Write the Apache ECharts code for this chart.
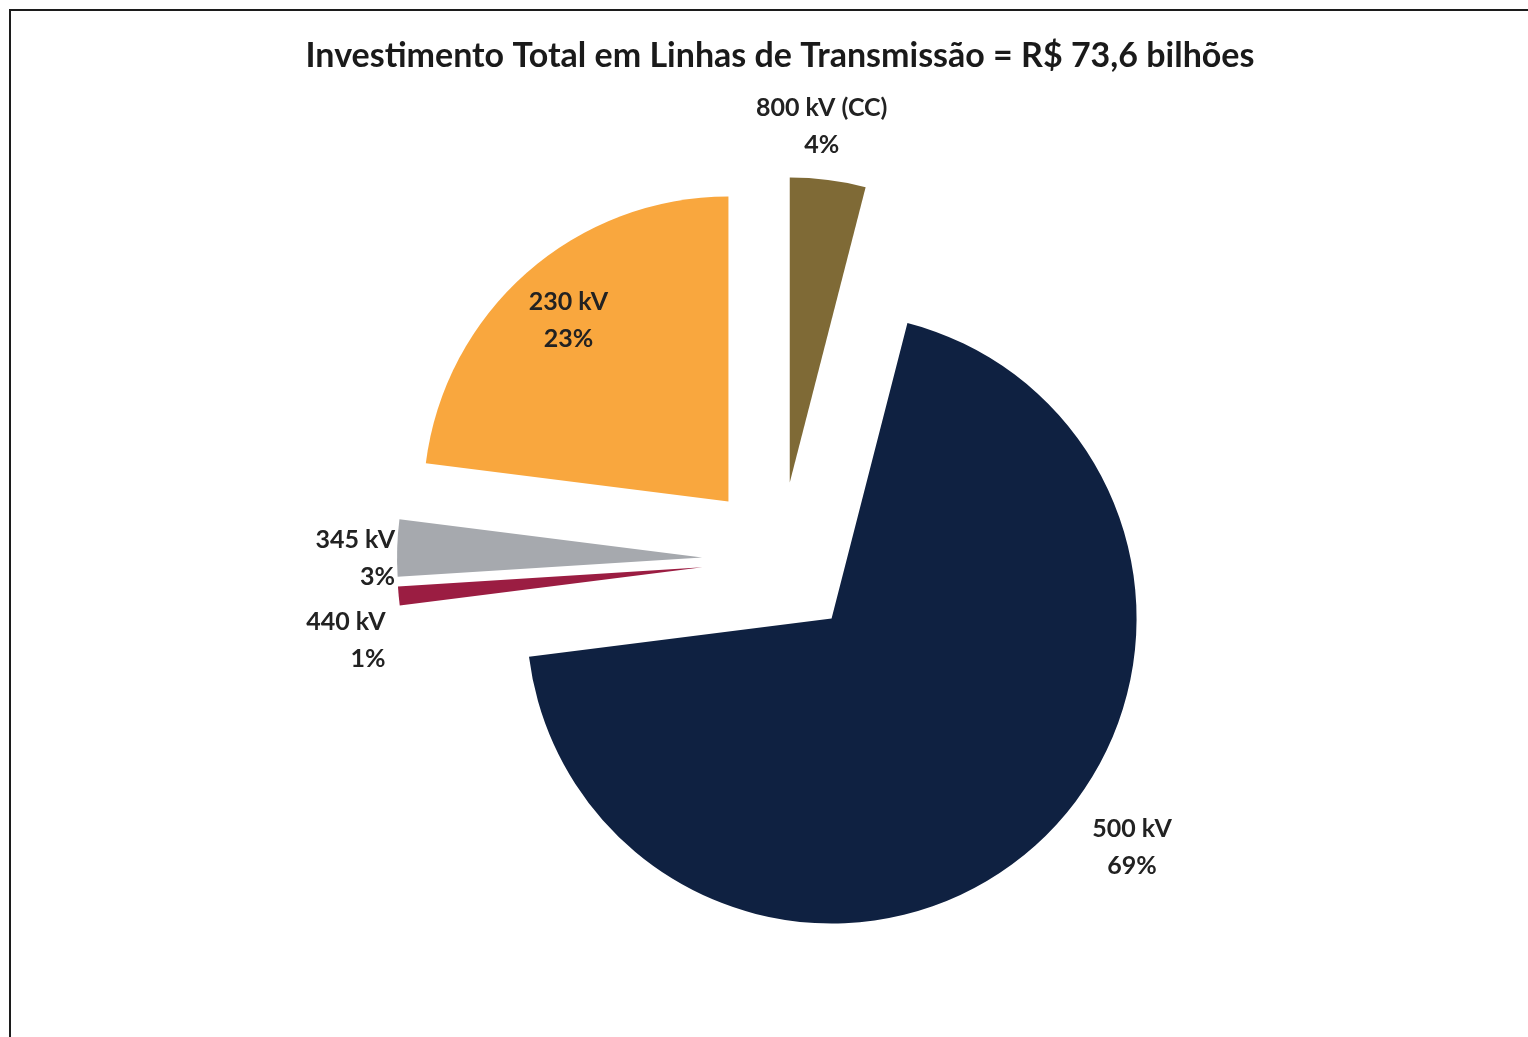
<!DOCTYPE html>
<html><head><meta charset="utf-8">
<script src="https://cdn.jsdelivr.net/npm/echarts@6/dist/echarts.min.js"></script>
<style>
html,body{margin:0;padding:0;background:#fff;overflow:hidden;width:1528px;height:1037px;}
#frame{position:absolute;left:9px;top:9px;width:1519px;height:1028px;border-left:2px solid #1c1c1c;border-top:2px solid #1c1c1c;box-sizing:border-box;}
#chart{position:absolute;left:0;top:0;width:1560px;height:1037px;}
</style></head><body>
<div id="frame"></div>
<div id="chart"></div>
<script>
// ---- data ----
const categories = ['800 kV (CC)', '500 kV', '440 kV', '345 kV', '230 kV'];
const shares = [4, 69, 1, 3, 23];
const titleText = 'Investimento Total em Linhas de Transmissão = R$ 73,6 bilhões';

// ---- styles ----
const colors = ['#7F6A36', '#0F2141', '#9B1D42', '#A6A9AE', '#F9A73E'];
// label anchors relative to each slice's (unexploded) bounding box
const labelPlacement = [
  r => ({ x: r.x + r.width * 0.55, y: r.y - 129, align: 'center' }),
  r => ({ x: r.x + r.width + 47, y: r.y + r.height - 18, align: 'center' }),
  r => ({ x: r.x - 90, y: r.y + r.height + 42, align: 'right' }),
  r => ({ x: r.x - 80, y: r.y + r.height / 2 + 8, align: 'right' }),
  r => ({ x: r.x + 91, y: r.y + 65, align: 'center' })
];

const pieGeom = { center: [780, 560], radius: 305, startAngle: 90, clockwise: true };
const labelFont = { fontFamily: 'Lato', fontWeight: 'bold', fontSize: 25, lineHeight: 37, color: '#222222' };

const chart = echarts.init(document.getElementById('chart'), null, { renderer: 'canvas' });
chart.setOption({
  animation: false,
  backgroundColor: 'transparent',
  title: {
    text: titleText,
    left: 'center',
    top: 34,
    textStyle: { fontFamily: 'Lato', fontWeight: 'bold', fontSize: 34, color: '#1a1a1a' }
  },
  series: [
    Object.assign({
      type: 'pie',
      selectedMode: 'multiple',
      selectedOffset: 78,
      emphasis: { disabled: true },
      silent: true,
      itemStyle: { borderWidth: 0 },
      label: { show: false },
      labelLine: { show: false },
      data: categories.map((c, i) => ({
        name: c, value: shares[i], selected: true, itemStyle: { color: colors[i] }
      }))
    }, pieGeom),
    // label carrier: same slices, not exploded, invisible fill
    Object.assign({
      type: 'pie',
      silent: true,
      emphasis: { disabled: true },
      itemStyle: { color: 'rgba(0,0,0,0)', borderWidth: 0 },
      avoidLabelOverlap: false,
      label: Object.assign({
        show: true,
        position: 'outside',
        formatter: p => p.name + '\n' + p.value + '%'
      }, labelFont),
      labelLine: { show: false },
      labelLayout: p => Object.assign({ verticalAlign: 'middle' }, labelPlacement[p.dataIndex](p.rect)),
      data: categories.map((c, i) => ({ name: c, value: shares[i] }))
    }, pieGeom)
  ]
});
</script>
</body></html>
